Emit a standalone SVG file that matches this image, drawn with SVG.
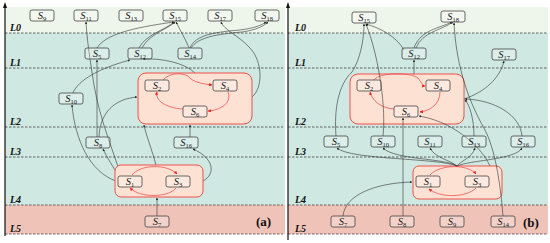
<svg xmlns="http://www.w3.org/2000/svg" width="550" height="243" viewBox="0 0 550 243">
<defs>
<marker id="a" viewBox="0 0 6 6" refX="5.5" refY="3" markerWidth="4" markerHeight="4" orient="auto"><path d="M0,0L6,3L0,6z" fill="#222"/></marker>
<marker id="ra" viewBox="0 0 6 6" refX="5.5" refY="3" markerWidth="4" markerHeight="4" orient="auto"><path d="M0,0L6,3L0,6z" fill="#e82020"/></marker>
</defs>
<style>
.b0{fill:#eef5ea}
.b1{fill:#cfe8e2}
.b5{fill:#efc3b8}
.dash{stroke:#444;stroke-width:.8;stroke-dasharray:2.5 1.5;fill:none}
.ax{stroke:#111;stroke-width:1.2;fill:none}
.lvl{font-family:"Liberation Serif",serif;font-weight:bold;font-style:italic;font-size:10px;fill:#111}
.pl{font-family:"Liberation Serif",serif;font-weight:bold;font-size:13px;fill:#111}
.n rect{fill:#ffffff;fill-opacity:.25;stroke:#444;stroke-width:.8}
.n text{font-family:"Liberation Serif",serif;font-style:italic;font-size:10.5px;fill:#222;text-anchor:middle}
.n tspan{font-size:6.5px;font-style:normal}
.grp{fill:#fde2d4;stroke:#f0504a;stroke-width:1}
.e{fill:none;stroke:#333;stroke-width:.6;marker-end:url(#a)}
.r{fill:none;stroke:#f05050;stroke-width:.8;marker-end:url(#ra)}
</style>
<g id="bg-a">
<rect class="b0" x="5" y="7" width="280" height="26"/>
<rect class="b1" x="5" y="33" width="280" height="172"/>
<rect class="b5" x="5" y="205" width="280" height="29"/>
<path class="dash" d="M5,33H283M5,68H283M5,127H283M5,157H283M5,205H283M5,234H283"/>
<path class="ax" d="M5,236V6"/><path d="M3,8L5,2L7,8z" fill="#111"/>
<text class="lvl" x="10" y="31">L0</text>
<text class="lvl" x="10" y="66">L1</text>
<text class="lvl" x="10" y="125">L2</text>
<text class="lvl" x="10" y="155">L3</text>
<text class="lvl" x="10" y="203">L4</text>
<text class="lvl" x="10" y="232">L5</text>
<text class="pl" x="256" y="226">(a)</text>
</g>
<g id="bg-b">
<rect class="b0" x="288" y="7" width="260" height="26"/>
<rect class="b1" x="288" y="33" width="260" height="172"/>
<rect class="b5" x="288" y="205" width="260" height="29"/>
<path class="dash" d="M288,33H548M288,68H548M288,127H548M288,157H548M288,205H548M288,234H548"/>
<path class="ax" d="M288,240V6"/><path d="M286,8L288,2L290,8z" fill="#111"/>
<text class="lvl" x="295" y="31">L0</text>
<text class="lvl" x="295" y="66">L1</text>
<text class="lvl" x="295" y="125">L2</text>
<text class="lvl" x="295" y="155">L3</text>
<text class="lvl" x="295" y="203">L4</text>
<text class="lvl" x="295" y="232">L5</text>
<text class="pl" x="523" y="227">(b)</text>
</g>
<g id="connectors-a">
<path class="e" d="M157,216V198"/>
<path class="e" d="M203,181C216,174 214,158 193,149"/>
<path class="e" d="M190,137V125"/>
<path class="e" d="M116,181C90,172 75,140 72,105"/>
<path class="e" d="M119,177C113,166 107,158 103,149"/>
<path class="e" d="M121,176C113,150 100,120 94,85C90,60 87,40 86,22"/>
<path class="e" d="M97,137V60"/>
<path class="e" d="M99,137C100,112 115,99 137,97"/>
<path class="e" d="M156,165C152,150 146,135 144,125"/>
<path class="e" d="M73,93C78,80 100,68 130,60"/>
<path class="e" d="M195,73C185,63 162,58 143,59"/>
<path class="e" d="M252,97C263,88 263,62 250,48C238,35 224,30 221,22"/>
<path class="e" d="M139,48C145,35 165,30 174,22"/>
<path class="e" d="M142,48C149,34 168,29 175,22"/>
<path class="e" d="M190,48C195,35 215,32 240,30C255,28 262,25 266,22"/>
<path class="e" d="M191,48C198,37 218,34 242,32C256,30 264,26 268,22"/>
<path class="e" d="M189,48C185,38 180,30 176,22"/>
<path class="e" d="M97,48C105,35 130,28 174,22"/>
</g>
<g id="a-G2"><rect class="grp" x="138" y="73" width="114" height="51" rx="8"/></g>
<g id="a-G4"><rect class="grp" x="115" y="165" width="88" height="32" rx="6"/></g>
<g id="b-G2"><rect class="grp" x="350" y="74" width="114" height="50" rx="8"/></g>
<g id="b-G4"><rect class="grp" x="413" y="166" width="89" height="33" rx="6"/></g>
<g id="connectors">
<path class="r" d="M163,80C170,72 185,72 190,78C195,83 205,84 212,85"/>
<path class="r" d="M228,92C232,102 222,110 208,111"/>
<path class="r" d="M183,109C165,108 155,100 157,92"/>
<path class="r" d="M132,175C140,164 168,164 177,174"/>
<path class="r" d="M176,188C168,198 140,198 130,188"/>
<path class="r" d="M374,80C380,72 410,72 418,78C422,84 424,86 425,86"/>
<path class="r" d="M440,92C440,104 430,111 420,112"/>
<path class="r" d="M394,109C380,108 372,100 370,92"/>
<path class="r" d="M430,175C440,164 468,164 476,174"/>
<path class="r" d="M476,188C466,198 440,198 429,189"/>
<path class="e" d="M343,216C345,195 375,183 412,182"/>
<path class="e" d="M403,216V118"/>
<path class="e" d="M457,166C440,158 350,160 337,148"/>
<path class="e" d="M457,166C445,158 395,160 383,148"/>
<path class="e" d="M457,166C450,160 435,158 430,148"/>
<path class="e" d="M457,166C462,160 472,158 475,148"/>
<path class="e" d="M457,166C470,160 515,160 522,148"/>
<path class="e" d="M490,166C482,148 460,130 440,122C430,118 424,117 419,116"/>
<path class="e" d="M336,136C334,110 338,85 352,72C360,60 364,40 364,24"/>
<path class="e" d="M383,136C386,110 380,60 366,24"/>
<path class="e" d="M522,136C520,115 495,100 465,99"/>
<path class="e" d="M474,136C474,120 470,105 465,100"/>
<path class="e" d="M464,99C485,92 500,78 504,61"/>
<path class="e" d="M503,216C500,180 495,150 485,130C465,95 456,60 454,23"/>
<path class="e" d="M414,74V60"/>
<path class="e" d="M414,48C420,30 440,28 452,22"/>
<path class="e" d="M416,48C422,32 442,30 453,22"/>
<path class="e" d="M404,50C396,36 380,28 366,24"/>
</g>
<g id="a-S9" class="n"><rect x="30" y="10" width="24" height="11" rx="2"/><text x="42" y="18.5">S<tspan dy="2">9</tspan></text></g>
<g id="a-S11" class="n"><rect x="74" y="10" width="24" height="11" rx="2"/><text x="86" y="18.5">S<tspan dy="2">11</tspan></text></g>
<g id="a-S13" class="n"><rect x="119" y="10" width="24" height="11" rx="2"/><text x="131" y="18.5">S<tspan dy="2">13</tspan></text></g>
<g id="a-S15" class="n"><rect x="163" y="10" width="24" height="11" rx="2"/><text x="175" y="18.5">S<tspan dy="2">15</tspan></text></g>
<g id="a-S17" class="n"><rect x="208" y="10" width="24" height="11" rx="2"/><text x="220" y="18.5">S<tspan dy="2">17</tspan></text></g>
<g id="a-S18" class="n"><rect x="255" y="10" width="24" height="11" rx="2"/><text x="267" y="18.5">S<tspan dy="2">18</tspan></text></g>
<g id="a-S5" class="n"><rect x="85" y="48" width="24" height="11" rx="2"/><text x="97" y="56.5">S<tspan dy="2">5</tspan></text></g>
<g id="a-S12" class="n"><rect x="128" y="48" width="24" height="11" rx="2"/><text x="140" y="56.5">S<tspan dy="2">12</tspan></text></g>
<g id="a-S14" class="n"><rect x="178" y="48" width="24" height="11" rx="2"/><text x="190" y="56.5">S<tspan dy="2">14</tspan></text></g>
<g id="a-S10" class="n"><rect x="59" y="93" width="24" height="11" rx="2"/><text x="71" y="101.5">S<tspan dy="2">10</tspan></text></g>
<g id="a-S2" class="n"><rect x="145" y="80" width="24" height="11" rx="2"/><text x="157" y="88.5">S<tspan dy="2">2</tspan></text></g>
<g id="a-S4" class="n"><rect x="213" y="80" width="24" height="11" rx="2"/><text x="225" y="88.5">S<tspan dy="2">4</tspan></text></g>
<g id="a-S6" class="n"><rect x="183" y="106" width="24" height="11" rx="2"/><text x="195" y="114.5">S<tspan dy="2">6</tspan></text></g>
<g id="a-S8" class="n"><rect x="86" y="137" width="24" height="11" rx="2"/><text x="98" y="145.5">S<tspan dy="2">8</tspan></text></g>
<g id="a-S16" class="n"><rect x="174" y="137" width="24" height="11" rx="2"/><text x="186" y="145.5">S<tspan dy="2">16</tspan></text></g>
<g id="a-S1" class="n"><rect x="118" y="176" width="24" height="11" rx="2"/><text x="130" y="184.5">S<tspan dy="2">1</tspan></text></g>
<g id="a-S3" class="n"><rect x="166" y="176" width="24" height="11" rx="2"/><text x="178" y="184.5">S<tspan dy="2">3</tspan></text></g>
<g id="a-S7" class="n"><rect x="145" y="216" width="24" height="11" rx="2"/><text x="157" y="224.5">S<tspan dy="2">7</tspan></text></g>
<g id="b-S15" class="n"><rect x="352" y="12" width="24" height="11" rx="2"/><text x="364" y="20.5">S<tspan dy="2">15</tspan></text></g>
<g id="b-S18" class="n"><rect x="441" y="11" width="24" height="11" rx="2"/><text x="453" y="19.5">S<tspan dy="2">18</tspan></text></g>
<g id="b-S12" class="n"><rect x="402" y="48" width="24" height="11" rx="2"/><text x="414" y="56.5">S<tspan dy="2">12</tspan></text></g>
<g id="b-S17" class="n"><rect x="492" y="49" width="24" height="11" rx="2"/><text x="504" y="57.5">S<tspan dy="2">17</tspan></text></g>
<g id="b-S2" class="n"><rect x="357" y="80" width="24" height="11" rx="2"/><text x="369" y="88.5">S<tspan dy="2">2</tspan></text></g>
<g id="b-S4" class="n"><rect x="426" y="80" width="24" height="11" rx="2"/><text x="438" y="88.5">S<tspan dy="2">4</tspan></text></g>
<g id="b-S6" class="n"><rect x="394" y="106" width="24" height="11" rx="2"/><text x="406" y="114.5">S<tspan dy="2">6</tspan></text></g>
<g id="b-S5" class="n"><rect x="324" y="136" width="24" height="11" rx="2"/><text x="336" y="144.5">S<tspan dy="2">5</tspan></text></g>
<g id="b-S10" class="n"><rect x="371" y="136" width="24" height="11" rx="2"/><text x="383" y="144.5">S<tspan dy="2">10</tspan></text></g>
<g id="b-S11" class="n"><rect x="418" y="136" width="24" height="11" rx="2"/><text x="430" y="144.5">S<tspan dy="2">11</tspan></text></g>
<g id="b-S13" class="n"><rect x="462" y="136" width="24" height="11" rx="2"/><text x="474" y="144.5">S<tspan dy="2">13</tspan></text></g>
<g id="b-S16" class="n"><rect x="511" y="136" width="24" height="11" rx="2"/><text x="523" y="144.5">S<tspan dy="2">16</tspan></text></g>
<g id="b-S1" class="n"><rect x="416" y="176" width="24" height="11" rx="2"/><text x="428" y="184.5">S<tspan dy="2">1</tspan></text></g>
<g id="b-S3" class="n"><rect x="465" y="176" width="24" height="11" rx="2"/><text x="477" y="184.5">S<tspan dy="2">3</tspan></text></g>
<g id="b-S7" class="n"><rect x="331" y="216" width="24" height="11" rx="2"/><text x="343" y="224.5">S<tspan dy="2">7</tspan></text></g>
<g id="b-S8" class="n"><rect x="390" y="216" width="24" height="11" rx="2"/><text x="402" y="224.5">S<tspan dy="2">8</tspan></text></g>
<g id="b-S9" class="n"><rect x="440" y="216" width="24" height="11" rx="2"/><text x="452" y="224.5">S<tspan dy="2">9</tspan></text></g>
<g id="b-S14" class="n"><rect x="491" y="216" width="24" height="11" rx="2"/><text x="503" y="224.5">S<tspan dy="2">14</tspan></text></g>
</svg>
